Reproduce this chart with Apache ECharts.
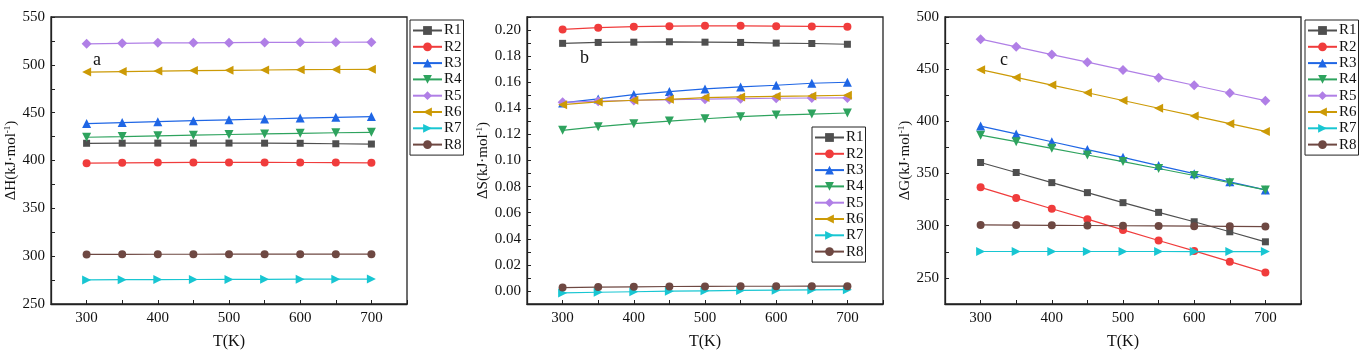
<!DOCTYPE html>
<html><head><meta charset="utf-8">
<script src="https://cdn.jsdelivr.net/npm/echarts@6/dist/echarts.min.js"></script>
<style>html,body{margin:0;padding:0;background:#fff}#c{width:1363px;height:356px}</style>
</head><body><div id="c"></div>
<script>
const temps = [300, 350, 400, 450, 500, 550, 600, 650, 700];
const names = ['R1','R2','R3','R4','R5','R6','R7','R8'];

// Panel a: ΔH (kJ/mol)
const dH_R1 = [418.0, 418.1, 418.2, 418.2, 418.2, 418.1, 418.0, 417.5, 417.2];
const dH_R2 = [397.2, 397.6, 397.8, 398.0, 398.0, 398.0, 397.9, 397.8, 397.6];
const dH_R3 = [438.6, 439.6, 440.6, 441.6, 442.5, 443.4, 444.3, 445.1, 445.9];
const dH_R4 = [424.3, 425.0, 425.8, 426.5, 427.2, 427.8, 428.4, 429.0, 429.5];
const dH_R5 = [522.0, 522.5, 523.0, 523.0, 523.2, 523.4, 523.5, 523.6, 523.7];
const dH_R6 = [492.4, 493.0, 493.5, 494.0, 494.3, 494.6, 494.9, 495.1, 495.3];
const dH_R7 = [275.2, 275.4, 275.5, 275.6, 275.7, 275.8, 275.9, 276.0, 276.1];
const dH_R8 = [301.8, 301.9, 302.0, 302.0, 302.1, 302.1, 302.1, 302.1, 302.1];

// Panel b: ΔS (kJ/mol/K)
const dS_R1 = [0.1898, 0.1905, 0.1907, 0.1910, 0.1907, 0.1905, 0.1900, 0.1897, 0.1891];
const dS_R2 = [0.2005, 0.2018, 0.2026, 0.2030, 0.2032, 0.2032, 0.2030, 0.2028, 0.2026];
const dS_R3 = [0.1441, 0.1472, 0.1505, 0.1528, 0.1549, 0.1564, 0.1577, 0.1592, 0.1600];
const dS_R4 = [0.1231, 0.1259, 0.1282, 0.1302, 0.1320, 0.1336, 0.1348, 0.1356, 0.1364];
const dS_R5 = [0.1446, 0.1455, 0.1460, 0.1467, 0.1470, 0.1474, 0.1477, 0.1479, 0.1480];
const dS_R6 = [0.1428, 0.1449, 0.1462, 0.1469, 0.1482, 0.1487, 0.1492, 0.1495, 0.1500];
const dS_R7 = [-0.0015, -0.0010, -0.0006, -0.0002, 0.0001, 0.0004, 0.0006, 0.0008, 0.0010];
const dS_R8 = [0.0026, 0.0030, 0.0032, 0.0034, 0.0035, 0.0036, 0.0036, 0.0037, 0.0037];

// Panel c: ΔG (kJ/mol)
const dG_R1 = [360.6, 351.0, 341.3, 331.7, 322.1, 312.8, 303.8, 294.2, 284.6];
const dG_R2 = [336.8, 326.5, 316.3, 306.3, 296.0, 285.8, 275.9, 265.6, 255.3];
const dG_R3 = [395.5, 388.0, 380.5, 373.0, 365.5, 357.6, 349.9, 342.1, 334.3];
const dG_R4 = [386.8, 380.5, 374.2, 367.8, 361.5, 354.8, 348.1, 341.2, 334.3];
const dG_R5 = [478.8, 471.4, 464.0, 456.7, 449.3, 441.9, 434.6, 427.2, 419.8];
const dG_R6 = [449.5, 442.1, 434.8, 427.4, 420.0, 412.6, 405.2, 397.8, 390.4];
const dG_R7 = [275.3, 275.3, 275.3, 275.3, 275.3, 275.3, 275.2, 275.2, 275.2];
const dG_R8 = [300.8, 300.6, 300.4, 300.2, 300.0, 299.8, 299.6, 299.4, 299.2];

const xTickLabels = [300, 400, 500, 600, 700];
const yLabelsA = [250, 300, 350, 400, 450, 500, 550];
const yLabelsB = [0, 0.02, 0.04, 0.06, 0.08, 0.10, 0.12, 0.14, 0.16, 0.18, 0.20];
const yLabelsC = [250, 300, 350, 400, 450, 500];

const panelA = [dH_R1, dH_R2, dH_R3, dH_R4, dH_R5, dH_R6, dH_R7, dH_R8];
const panelB = [dS_R1, dS_R2, dS_R3, dS_R4, dS_R5, dS_R6, dS_R7, dS_R8];
const panelC = [dG_R1, dG_R2, dG_R3, dG_R4, dG_R5, dG_R6, dG_R7, dG_R8];

const colors = ['#4f4f4f', '#f03c3c', '#1f66e5', '#2ea35e', '#b07fe6', '#cc9a06', '#18c6d2', '#6e4842'];
const symbols = ['rect', 'circle', 'triangle', 'path://M0,0 L10,0 L5,10 Z', 'diamond',
  'path://M0,5 L10,0 L10,10 Z', 'path://M0,0 L10,5 L0,10 Z', 'circle'];
const symSizes = [7, 8, 9, 9, 10, 9, 9, 8];

const FONT = 'Liberation Serif, Times New Roman, serif';

function fmtB(v){ return Math.abs(v) < 1e-9 ? '0.00' : v.toFixed(2); }

function makeAxes(gi, yMin, yMax, yInt, yLabels, yFmt, yName, yGap) {
  const x = {
    type: 'value', gridIndex: gi, min: 250, max: 750, interval: 50,
    axisLine: {show: true, onZero: false, lineStyle: {color: '#222', width: 1.3}},
    axisTick: {show: true, inside: true, length: 4, lineStyle: {color: '#222', width: 1}},
    axisLabel: {color: '#111', fontFamily: FONT, fontSize: 15, margin: 7,
      showMinLabel: true, showMaxLabel: true,
      formatter: v => xTickLabels.indexOf(Math.round(v)) >= 0 ? String(Math.round(v)) : ''},
    splitLine: {show: false},
    name: 'T(K)', nameLocation: 'middle', nameGap: 30,
    nameTextStyle: {color: '#111', fontFamily: FONT, fontSize: 16}
  };
  const y = {
    type: 'value', gridIndex: gi, min: yMin, max: yMax, interval: yInt,
    axisLine: {show: true, onZero: false, lineStyle: {color: '#222', width: 1.3}},
    axisTick: {show: true, inside: true, length: 4, lineStyle: {color: '#222', width: 1}},
    axisLabel: {color: '#111', fontFamily: FONT, fontSize: 15, margin: 6,
      formatter: v => {
        const hit = yLabels.find(t => Math.abs(t - v) < yInt * 1e-3);
        return hit === undefined ? '' : yFmt(hit);
      }},
    splitLine: {show: false},
    name: '{n|' + yName + '(kJ·mol}{s|-1}{n|)}', nameLocation: 'middle', nameGap: yGap,
    nameTextStyle: {color: '#111', fontFamily: FONT, fontSize: 15,
      rich: {n: {fontFamily: FONT, fontSize: 15, color: '#111', lineHeight: 16},
             s: {fontFamily: FONT, fontSize: 9, color: '#111', lineHeight: 16, verticalAlign: 'top', padding: [0,0,6,0]}}}
  };
  return [x, y];
}

const axA = makeAxes(0, 250, 550, 25, yLabelsA, v => String(v), 'ΔH', 29);
const axB = makeAxes(1, -0.01, 0.21, 0.01, yLabelsB, fmtB, 'ΔS', 33);
const axC = makeAxes(2, 225, 500, 25, yLabelsC, v => String(v), 'ΔG', 29);

const series = [];
[panelA, panelB, panelC].forEach((panel, gi) => {
  panel.forEach((vals, i) => {
    series.push({
      type: 'line', name: names[i], xAxisIndex: gi, yAxisIndex: gi,
      data: temps.map((t, k) => [t, vals[k]]),
      symbol: symbols[i], symbolSize: symSizes[i], showAllSymbol: true,
      lineStyle: {color: colors[i], width: 1.2},
      itemStyle: {color: colors[i]},
      emphasis: {disabled: true}, animation: false, z: 3 + i
    });
  });
});

function legend(left, top) {
  return {
    data: names, orient: 'vertical', left: left, top: top,
    itemWidth: 29, itemHeight: 11, itemGap: 1.3,
    padding: [3, 2, 3, 2], borderColor: '#222', borderWidth: 1,
    backgroundColor: '#fff', selectedMode: false,
    textStyle: {color: '#111', fontFamily: FONT, fontSize: 15, padding: [0, 0, 0, -3]}
  };
}

const titleStyle = {color: '#111', fontFamily: FONT, fontSize: 18, fontWeight: 'normal'};

const option = {
  animation: false,
  backgroundColor: '#fff',
  title: [
    {text: 'a', left: 93, top: 51, padding: 0, textStyle: titleStyle},
    {text: 'b', left: 580, top: 49, padding: 0, textStyle: titleStyle},
    {text: 'c', left: 1000, top: 51, padding: 0, textStyle: titleStyle}
  ],
  grid: [
    {left: 51, top: 17, width: 356, height: 287, show: true, borderColor: '#222', borderWidth: 1.3, backgroundColor: 'transparent'},
    {left: 527, top: 17, width: 356, height: 287, show: true, borderColor: '#222', borderWidth: 1.3, backgroundColor: 'transparent'},
    {left: 945, top: 17, width: 356, height: 287, show: true, borderColor: '#222', borderWidth: 1.3, backgroundColor: 'transparent'}
  ],
  xAxis: [axA[0], axB[0], axC[0]],
  yAxis: [axA[1], axB[1], axC[1]],
  legend: [legend(410, 20), legend(812, 127), legend(1305, 20)],
  series: series
};

const chart = echarts.init(document.getElementById('c'), null, {renderer: 'canvas'});
chart.setOption(option);
</script></body></html>
